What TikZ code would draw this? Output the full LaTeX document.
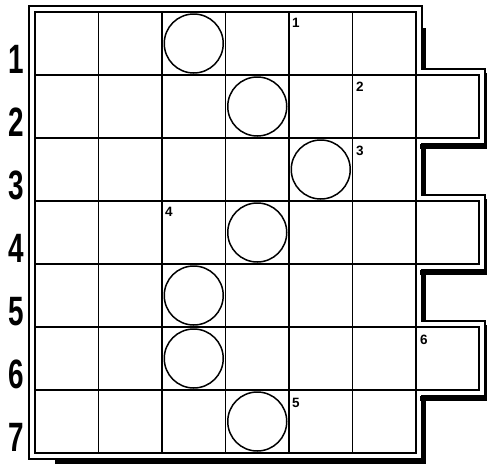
\documentclass[tikz,border=0pt]{standalone}
\usepackage{fontspec}
\setmainfont{Liberation Sans}
\begin{document}
\begin{tikzpicture}[x=1pt,y=-1pt,
  gridline/.style={line width=1.6pt},
  outerline/.style={line width=1.3pt},
  shadowline/.style={line width=4.5pt},
  disc/.style={circle,draw,line width=1.5pt,minimum size=59pt,inner sep=0pt},
  num/.style={anchor=north west,inner sep=0pt,font=\bfseries\fontsize{13.5}{13.5}\selectfont},
  rowlab/.style={anchor=base,inner sep=0pt,font=\bfseries\fontsize{41}{41}\selectfont}]
\useasboundingbox (0,0) rectangle (487,464);
\fill[white] (0,0) rectangle (487,464);

% interior grid lines
\foreach \x in {98.5,162,225.5,289,352.5,416} \draw[gridline] (\x,12) -- (\x,453);
\foreach \y in {75,138,201,264,327,390} \draw[gridline] (35,\y) -- (416,\y);

% inner outline
\draw[gridline] (35,12) -- (416,12) -- (416,75) -- (479,75) -- (479,138) -- (416,138)
  -- (416,201) -- (479,201) -- (479,264) -- (416,264) -- (416,327) -- (479,327)
  -- (479,390) -- (416,390) -- (416,453) -- (35,453) -- cycle;

% outer outline
\draw[outerline] (29,6) -- (422,6) -- (422,69) -- (485,69) -- (485,144) -- (422,144)
  -- (422,195) -- (485,195) -- (485,270) -- (422,270) -- (422,321) -- (485,321)
  -- (485,396) -- (422,396) -- (422,459) -- (29,459) -- cycle;

% shadow
\draw[shadowline] (424,28) -- (424,69);
\draw[shadowline] (424,144) -- (424,195);
\draw[shadowline] (424,270) -- (424,321);
\draw[shadowline] (424,396) -- (424,461);
\foreach \t in {69,195,321} {
  \draw[line width=3pt] (486,\t+4) -- (486,\t+77.5);
  \draw[shadowline] (420,\t+77.5) -- (487,\t+77.5);
}
\draw[shadowline] (55,461.5) -- (426,461.5);

% discs
\node[disc] (c1) at (193.75,43.5) {};
\node[disc] (c2) at (257.25,106.5) {};
\node[disc] (c3) at (320.75,169.5) {};
\node[disc] (c4) at (257.25,232.5) {};
\node[disc] (c5) at (193.75,295.5) {};
\node[disc] (c6) at (193.75,358.5) {};
\node[disc] (c7) at (257.25,421.5) {};

% small numbers
\node[num] (n1) at (292,18) {1};
\node[num] (n2) at (356,82) {2};
\node[num] (n3) at (356,146) {3};
\node[num] (n4) at (165,207) {4};
\node[num] (n5) at (292,398) {5};
\node[num] (n6) at (420,335) {6};

% row labels
\foreach \i/\y in {1/73,2/136,3/199,4/262,5/325,6/388,7/451}
  \node[rowlab] (r\i) at (16,\y) {\scalebox{0.68}[1]{\i}};
\end{tikzpicture}
\end{document}
